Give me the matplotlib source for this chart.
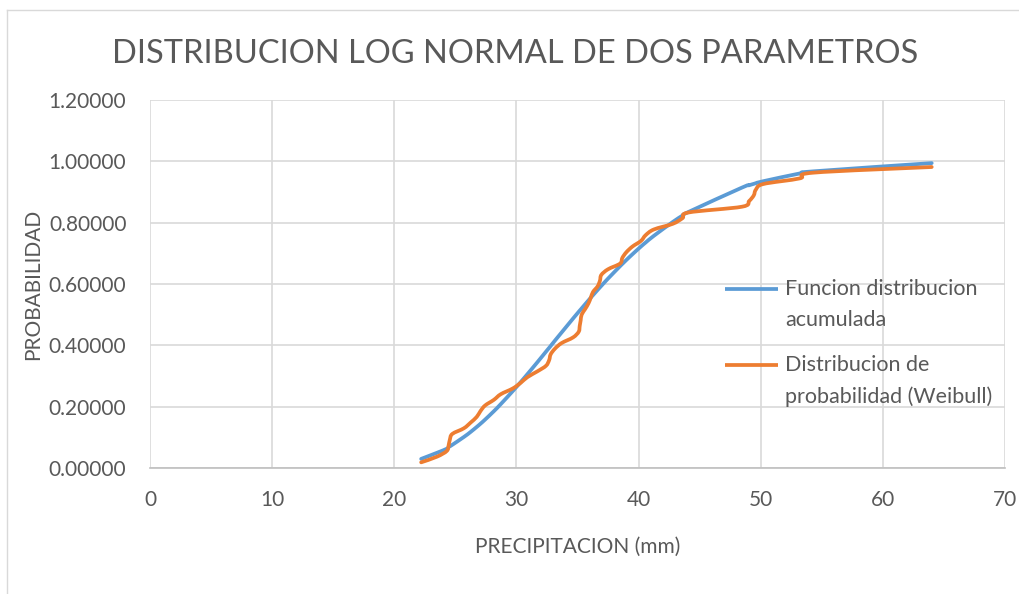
import numpy as np
import matplotlib
matplotlib.use("Agg")
import matplotlib.pyplot as plt
from matplotlib.path import Path
from matplotlib.patches import PathPatch
from matplotlib.lines import Line2D

plt.rcParams['font.family'] = ['Lato', 'DejaVu Sans']

# precipitacion ordenada (mm)
precip = [22.2, 23.5, 24.3, 24.45, 24.55, 24.75, 25.7, 26.25, 26.75, 27.05,
          27.43, 28.15, 28.72, 29.7, 30.35, 30.9, 31.7, 32.42, 32.68, 32.8,
          33.15, 33.7, 34.64, 35.1, 35.18, 35.26, 35.34, 35.63, 35.9, 36.09,
          36.27, 36.65, 36.84, 36.95, 37.5, 38.49, 38.67, 39.0, 39.5, 40.2,
          40.58, 41.25, 42.8, 43.6, 44.1, 48.45, 49.05, 49.43, 49.6, 50.2,
          53.2, 54.3, 64.0]

# funcion de distribucion acumulada (log normal)
cdf_lognormal = [0.0297, 0.0497, 0.0629, 0.0684, 0.0707, 0.0756, 0.1012, 0.1176, 0.1339, 0.1441,
                 0.1577, 0.1851, 0.2084, 0.2508, 0.2803, 0.3061, 0.3442, 0.3794, 0.3920, 0.3978,
                 0.4153, 0.4420, 0.4876, 0.5095, 0.5133, 0.5169, 0.5206, 0.5342, 0.5467, 0.5555,
                 0.5637, 0.5807, 0.5891, 0.5939, 0.6177, 0.6583, 0.6654, 0.6783, 0.6971, 0.7224,
                 0.7353, 0.7571, 0.8023, 0.8232, 0.8352, 0.9141, 0.9220, 0.9266, 0.9286, 0.9351,
                 0.9605, 0.9673, 0.9942]

# probabilidad empirica (Weibull)
prob_weibull = [0.0185, 0.0370, 0.0556, 0.0741, 0.0926, 0.1111, 0.1296, 0.1481, 0.1667, 0.1852,
                0.2037, 0.2222, 0.2407, 0.2593, 0.2778, 0.2963, 0.3148, 0.3333, 0.3519, 0.3704,
                0.3889, 0.4074, 0.4259, 0.4444, 0.4630, 0.4815, 0.5000, 0.5185, 0.5370, 0.5556,
                0.5741, 0.5926, 0.6111, 0.6296, 0.6481, 0.6667, 0.6852, 0.7037, 0.7222, 0.7407,
                0.7593, 0.7778, 0.7963, 0.8148, 0.8333, 0.8519, 0.8704, 0.8889, 0.9074, 0.9259,
                0.9444, 0.9630, 0.9815]

xticks = [0, 10, 20, 30, 40, 50, 60, 70]
yticks = [0.0, 0.2, 0.4, 0.6, 0.8, 1.0, 1.2]
legend_labels = [['Funcion distribucion', 'acumulada'],
                 ['Distribucion de', 'probabilidad (Weibull)']]

blue = '#5B9BD5'
orange = '#ED7D31'
gray_txt = '#595959'
grid_c = '#D9D9D9'
lw = 2.7


# linea suavizada tipo Excel (bezier por los puntos)
def smooth_path(xs, ys):
    pts = np.column_stack([xs, ys])
    verts = [pts[0]]
    codes = [Path.MOVETO]
    for i in range(len(pts) - 1):
        p0 = pts[i - 1] if i > 0 else pts[i]
        p1 = pts[i]
        p2 = pts[i + 1]
        p3 = pts[i + 2] if i + 2 < len(pts) else pts[i + 1]
        verts += [p1 + (p2 - p0) / 6, p2 - (p3 - p1) / 6, p2]
        codes += [Path.CURVE4] * 3
    return Path(verts, codes)


fig = plt.figure(figsize=(10.19, 5.94), dpi=100)
ax = fig.add_axes([150 / 1019, 1 - 468 / 594, 855 / 1019, 368 / 594])

# borde del area del grafico
fig.add_artist(Line2D([7 / 1019, 7 / 1019], [0, 1 - 10 / 594], transform=fig.transFigure, color=grid_c, lw=1))
fig.add_artist(Line2D([7 / 1019, 1], [1 - 10 / 594, 1 - 10 / 594], transform=fig.transFigure, color=grid_c, lw=1))

for p, col in [(smooth_path(precip, cdf_lognormal), blue), (smooth_path(precip, prob_weibull), orange)]:
    ax.add_patch(PathPatch(p, facecolor='none', edgecolor=col, lw=lw, capstyle='round', joinstyle='round', zorder=3))

ax.set_xlim(0, 70)
ax.set_ylim(0, 1.2)
ax.set_xticks(xticks)
ax.set_yticks(yticks)
ax.set_yticklabels([f'{v:.5f}' for v in yticks])
ax.grid(True, color=grid_c, lw=1.2)
ax.set_axisbelow(True)
for s in ['left', 'right', 'top']:
    ax.spines[s].set_visible(False)
ax.spines['bottom'].set_color('#BFBFBF')
ax.spines['bottom'].set_linewidth(1.2)
ax.tick_params(length=0, labelsize=15, colors=gray_txt)
ax.tick_params(axis='y', pad=17)
ax.tick_params(axis='x', pad=16)

ax.set_xlabel('PRECIPITACION (mm)', fontsize=15, color=gray_txt, labelpad=19)
ax.set_ylabel('PROBABILIDAD', fontsize=15, color=gray_txt, labelpad=4)
fig.text(515 / 1019, 1 - 54 / 594, 'DISTRIBUCION LOG NORMAL DE DOS PARAMETROS',
         ha='center', va='center', fontsize=23.5, color=gray_txt)

# leyenda manual: la linea va alineada con la primera linea del texto
for (lines, col, y0) in zip(legend_labels, [blue, orange], [289, 365]):
    fy = 1 - y0 / 594
    fig.add_artist(Line2D([725 / 1019, 778 / 1019], [fy, fy], transform=fig.transFigure,
                          color=col, lw=lw, solid_capstyle='butt'))
    for k, txt in enumerate(lines):
        fig.text(785 / 1019, 1 - (y0 + 31.5 * k) / 594, txt, ha='left', va='center',
                 fontsize=15.5, color=gray_txt)

fig.savefig('out.png', dpi=100)
